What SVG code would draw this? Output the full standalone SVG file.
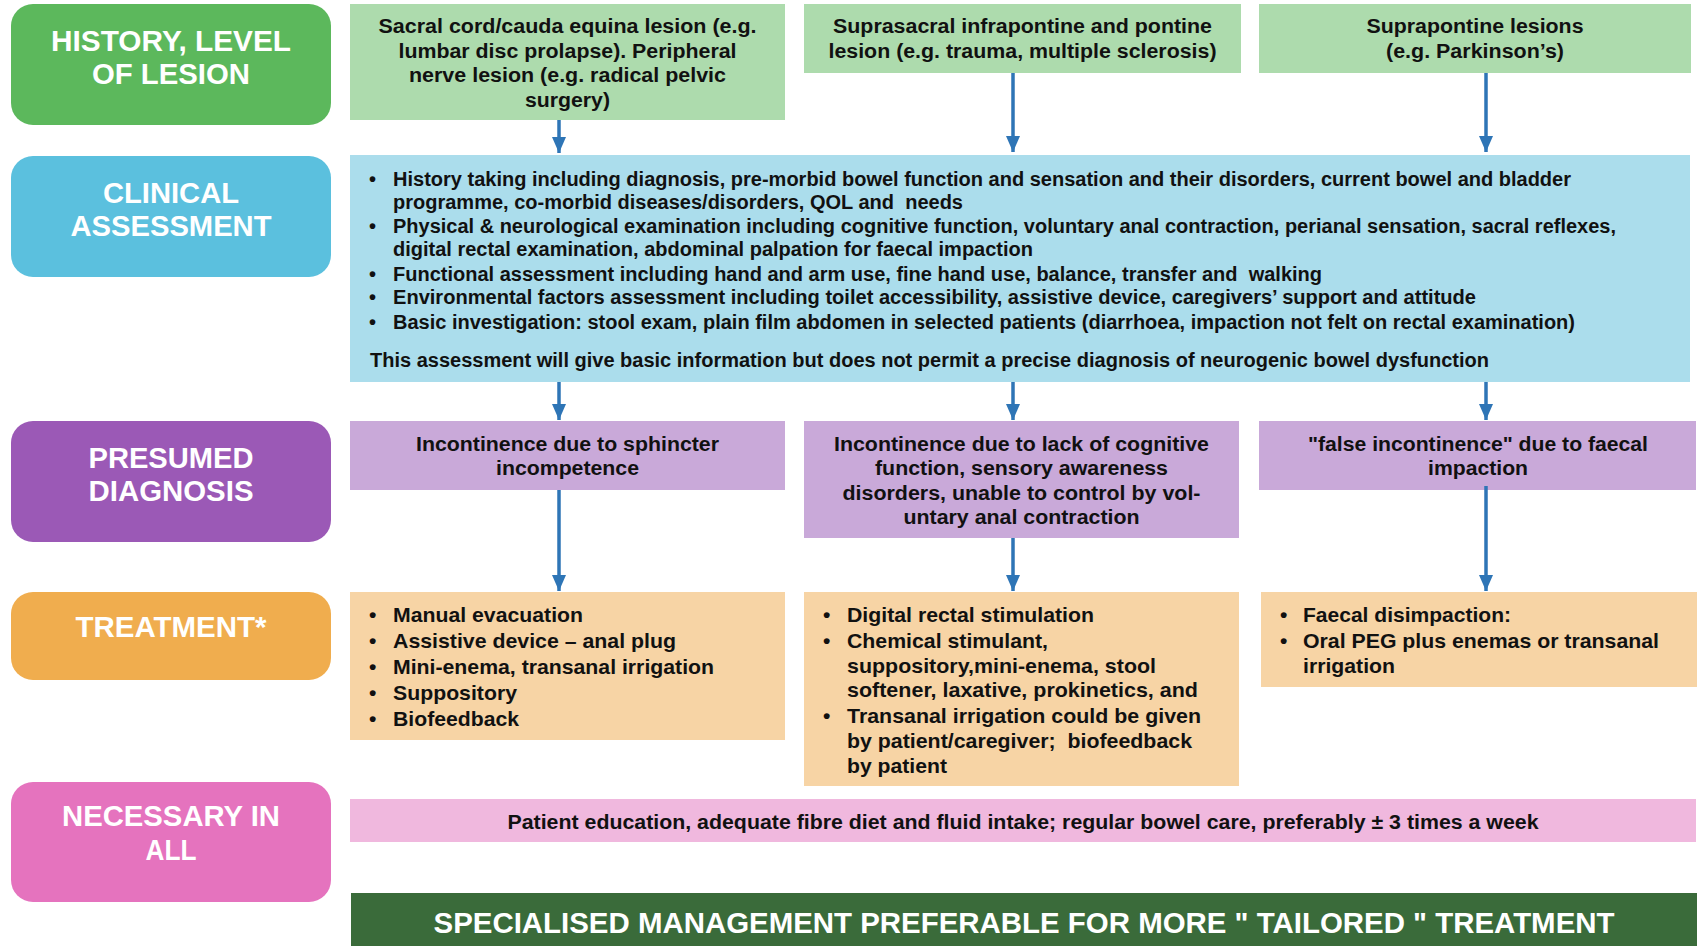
<svg xmlns="http://www.w3.org/2000/svg" width="1702" height="946" viewBox="0 0 1702 946">
<style>
text{font-family:"Liberation Sans Narrow","Liberation Sans",Arial,sans-serif;font-weight:bold}
.lab{fill:#ffffff;font-size:29px;text-anchor:middle}
.t{fill:#111111;font-size:20px}
.c{text-anchor:middle}
.tr{fill:#111111;font-size:21px}
.pre{white-space:pre}
.conn line{stroke:#2E75B6;stroke-width:3.5}
</style>
<defs>
<marker id="ah" markerWidth="16" markerHeight="14" refX="16" refY="7" orient="auto" markerUnits="userSpaceOnUse" viewBox="0 0 16 14">
<path d="M0,0 L16,7 L0,14 Z" fill="#2E75B6"/>
</marker>
</defs>
<rect width="1702" height="946" fill="#ffffff"/>

<g id="label-history"><rect x="11" y="4" width="320" height="121" rx="22" fill="#5CB85C"/>
<text class="lab" x="171" y="51" textLength="240" lengthAdjust="spacingAndGlyphs">HISTORY, LEVEL</text>
<text class="lab" x="171" y="84" textLength="158" lengthAdjust="spacingAndGlyphs">OF LESION</text></g>

<g id="label-clinical"><rect x="11" y="156" width="320" height="121" rx="22" fill="#5BC0DE"/>
<text class="lab" x="171" y="203" textLength="136" lengthAdjust="spacingAndGlyphs">CLINICAL</text>
<text class="lab" x="171" y="236" textLength="201" lengthAdjust="spacingAndGlyphs">ASSESSMENT</text></g>

<g id="label-diagnosis"><rect x="11" y="421" width="320" height="121" rx="22" fill="#9B59B6"/>
<text class="lab" x="171" y="468" textLength="165" lengthAdjust="spacingAndGlyphs">PRESUMED</text>
<text class="lab" x="171" y="501" textLength="165" lengthAdjust="spacingAndGlyphs">DIAGNOSIS</text></g>

<g id="label-treatment"><rect x="11" y="592" width="320" height="88" rx="22" fill="#F0AD4E"/>
<text class="lab" x="171" y="637" textLength="191" lengthAdjust="spacingAndGlyphs">TREATMENT*</text></g>

<g id="label-necessary"><rect x="11" y="782" width="320" height="120" rx="22" fill="#E573BE"/>
<text class="lab" x="171" y="826" textLength="218" lengthAdjust="spacingAndGlyphs">NECESSARY IN</text>
<text class="lab" x="171" y="860" textLength="51" lengthAdjust="spacingAndGlyphs">ALL</text></g>

<g id="lesion-sacral"><rect x="350" y="4" width="435" height="116" fill="#ADDBAD"/>
<text class="t c" x="567.5" y="33" textLength="378" lengthAdjust="spacingAndGlyphs">Sacral cord/cauda equina lesion (e.g.</text>
<text class="t c" x="567.5" y="58" textLength="338" lengthAdjust="spacingAndGlyphs">lumbar disc prolapse). Peripheral</text>
<text class="t c" x="567.5" y="82" textLength="317" lengthAdjust="spacingAndGlyphs">nerve lesion (e.g. radical pelvic</text>
<text class="t c" x="567.5" y="107" textLength="85" lengthAdjust="spacingAndGlyphs">surgery)</text></g>

<g id="lesion-suprasacral"><rect x="804" y="4" width="437" height="69" fill="#ADDBAD"/>
<text class="t c" x="1022.5" y="33" textLength="379" lengthAdjust="spacingAndGlyphs">Suprasacral infrapontine and pontine</text>
<text class="t c" x="1022.5" y="58" textLength="388" lengthAdjust="spacingAndGlyphs">lesion (e.g. trauma, multiple sclerosis)</text></g>

<g id="lesion-suprapontine"><rect x="1259" y="4" width="432" height="69" fill="#ADDBAD"/>
<text class="t c" x="1475" y="33" textLength="217" lengthAdjust="spacingAndGlyphs">Suprapontine lesions</text>
<text class="t c" x="1475" y="58" textLength="178" lengthAdjust="spacingAndGlyphs">(e.g. Parkinson’s)</text></g>

<g id="clinical-assessment"><rect x="350" y="155" width="1340" height="227" fill="#ABDDEC"/>
<text class="t" x="369" y="186">•</text>
<text class="t" x="393" y="186" textLength="1178" lengthAdjust="spacingAndGlyphs">History taking including diagnosis, pre-morbid bowel function and sensation and their disorders, current bowel and bladder</text>
<text class="t pre" x="393" y="209" textLength="570" lengthAdjust="spacingAndGlyphs">programme, co-morbid diseases/disorders, QOL and  needs</text>
<text class="t" x="369" y="233">•</text>
<text class="t" x="393" y="233" textLength="1223" lengthAdjust="spacingAndGlyphs">Physical &amp; neurological examination including cognitive function, voluntary anal contraction, perianal sensation, sacral reflexes,</text>
<text class="t" x="393" y="256" textLength="640" lengthAdjust="spacingAndGlyphs">digital rectal examination, abdominal palpation for faecal impaction</text>
<text class="t" x="369" y="281">•</text>
<text class="t pre" x="393" y="281" textLength="929" lengthAdjust="spacingAndGlyphs">Functional assessment including hand and arm use, fine hand use, balance, transfer and  walking</text>
<text class="t" x="369" y="304">•</text>
<text class="t" x="393" y="304" textLength="1083" lengthAdjust="spacingAndGlyphs">Environmental factors assessment including toilet accessibility, assistive device, caregivers’ support and attitude</text>
<text class="t" x="369" y="329">•</text>
<text class="t" x="393" y="329" textLength="1182" lengthAdjust="spacingAndGlyphs">Basic investigation: stool exam, plain film abdomen in selected patients (diarrhoea, impaction not felt on rectal examination)</text>
<text class="t" x="370" y="367" textLength="1119" lengthAdjust="spacingAndGlyphs">This assessment will give basic information but does not permit a precise diagnosis of neurogenic bowel dysfunction</text></g>

<g id="diag-sphincter"><rect x="350" y="421" width="435" height="69" fill="#C9A9D9"/>
<text class="t c" x="567.5" y="451" textLength="303" lengthAdjust="spacingAndGlyphs">Incontinence due to sphincter</text>
<text class="t c" x="567.5" y="475" textLength="143" lengthAdjust="spacingAndGlyphs">incompetence</text></g>

<g id="diag-cognitive"><rect x="804" y="421" width="435" height="117" fill="#C9A9D9"/>
<text class="t c" x="1021.5" y="451" textLength="375" lengthAdjust="spacingAndGlyphs">Incontinence due to lack of cognitive</text>
<text class="t c" x="1021.5" y="475" textLength="293" lengthAdjust="spacingAndGlyphs">function, sensory awareness</text>
<text class="t c" x="1021.5" y="500" textLength="358" lengthAdjust="spacingAndGlyphs">disorders, unable to control by vol-</text>
<text class="t c" x="1021.5" y="524" textLength="236" lengthAdjust="spacingAndGlyphs">untary anal contraction</text></g>

<g id="diag-false"><rect x="1259" y="421" width="437" height="69" fill="#C9A9D9"/>
<text class="t c" x="1478" y="451" textLength="340" lengthAdjust="spacingAndGlyphs">"false incontinence" due to faecal</text>
<text class="t c" x="1478" y="475" textLength="100" lengthAdjust="spacingAndGlyphs">impaction</text></g>

<g id="treat-sphincter"><rect x="350" y="592" width="435" height="148" fill="#F7D4A5"/>
<text class="tr" x="369" y="622">•</text><text class="tr" x="393" y="622" textLength="190" lengthAdjust="spacingAndGlyphs">Manual evacuation</text>
<text class="tr" x="369" y="648">•</text><text class="tr" x="393" y="648" textLength="283" lengthAdjust="spacingAndGlyphs">Assistive device – anal plug</text>
<text class="tr" x="369" y="674">•</text><text class="tr" x="393" y="674" textLength="321" lengthAdjust="spacingAndGlyphs">Mini-enema, transanal irrigation</text>
<text class="tr" x="369" y="700">•</text><text class="tr" x="393" y="700" textLength="124" lengthAdjust="spacingAndGlyphs">Suppository</text>
<text class="tr" x="369" y="726">•</text><text class="tr" x="393" y="726" textLength="126" lengthAdjust="spacingAndGlyphs">Biofeedback</text></g>

<g id="treat-cognitive"><rect x="804" y="592" width="435" height="194" fill="#F7D4A5"/>
<text class="tr" x="823" y="622">•</text><text class="tr" x="847" y="622" textLength="247" lengthAdjust="spacingAndGlyphs">Digital rectal stimulation</text>
<text class="tr" x="823" y="648">•</text><text class="tr" x="847" y="648" textLength="201" lengthAdjust="spacingAndGlyphs">Chemical stimulant,</text>
<text class="tr" x="847" y="673" textLength="309" lengthAdjust="spacingAndGlyphs">suppository,mini-enema, stool</text>
<text class="tr" x="847" y="697" textLength="351" lengthAdjust="spacingAndGlyphs">softener, laxative, prokinetics, and</text>
<text class="tr" x="823" y="723">•</text><text class="tr" x="847" y="723" textLength="354" lengthAdjust="spacingAndGlyphs">Transanal irrigation could be given</text>
<text class="tr pre" x="847" y="748" textLength="345" lengthAdjust="spacingAndGlyphs">by patient/caregiver;  biofeedback</text>
<text class="tr" x="847" y="773" textLength="100" lengthAdjust="spacingAndGlyphs">by patient</text></g>

<g id="treat-false"><rect x="1261" y="592" width="436" height="95" fill="#F7D4A5"/>
<text class="tr" x="1280" y="622">•</text><text class="tr" x="1303" y="622" textLength="208" lengthAdjust="spacingAndGlyphs">Faecal disimpaction:</text>
<text class="tr" x="1280" y="648">•</text><text class="tr" x="1303" y="648" textLength="356" lengthAdjust="spacingAndGlyphs">Oral PEG plus enemas or transanal</text>
<text class="tr" x="1303" y="673" textLength="92" lengthAdjust="spacingAndGlyphs">irrigation</text></g>

<g id="necessary-all"><rect x="350" y="799" width="1346" height="43" fill="#F0B8DE"/>
<text class="t c" x="1023" y="829" textLength="1031" lengthAdjust="spacingAndGlyphs">Patient education, adequate fibre diet and fluid intake; regular bowel care, preferably ± 3 times a week</text></g>

<g id="specialised"><rect x="351" y="893" width="1346" height="53" fill="#3A6B3A"/>
<text x="1024" y="933" fill="#ffffff" font-size="29" text-anchor="middle" textLength="1181" lengthAdjust="spacingAndGlyphs">SPECIALISED MANAGEMENT PREFERABLE FOR MORE " TAILORED " TREATMENT</text></g>

<g id="connectors" class="conn">
<line x1="559" y1="120" x2="559" y2="153" marker-end="url(#ah)"/>
<line x1="1013" y1="73" x2="1013" y2="152" marker-end="url(#ah)"/>
<line x1="1486" y1="73" x2="1486" y2="152" marker-end="url(#ah)"/>
<line x1="559" y1="382" x2="559" y2="420" marker-end="url(#ah)"/>
<line x1="1013" y1="382" x2="1013" y2="420" marker-end="url(#ah)"/>
<line x1="1486" y1="382" x2="1486" y2="420" marker-end="url(#ah)"/>
<line x1="559" y1="490" x2="559" y2="591" marker-end="url(#ah)"/>
<line x1="1013" y1="538" x2="1013" y2="591" marker-end="url(#ah)"/>
<line x1="1486" y1="486" x2="1486" y2="591" marker-end="url(#ah)"/>
</g>
</svg>
